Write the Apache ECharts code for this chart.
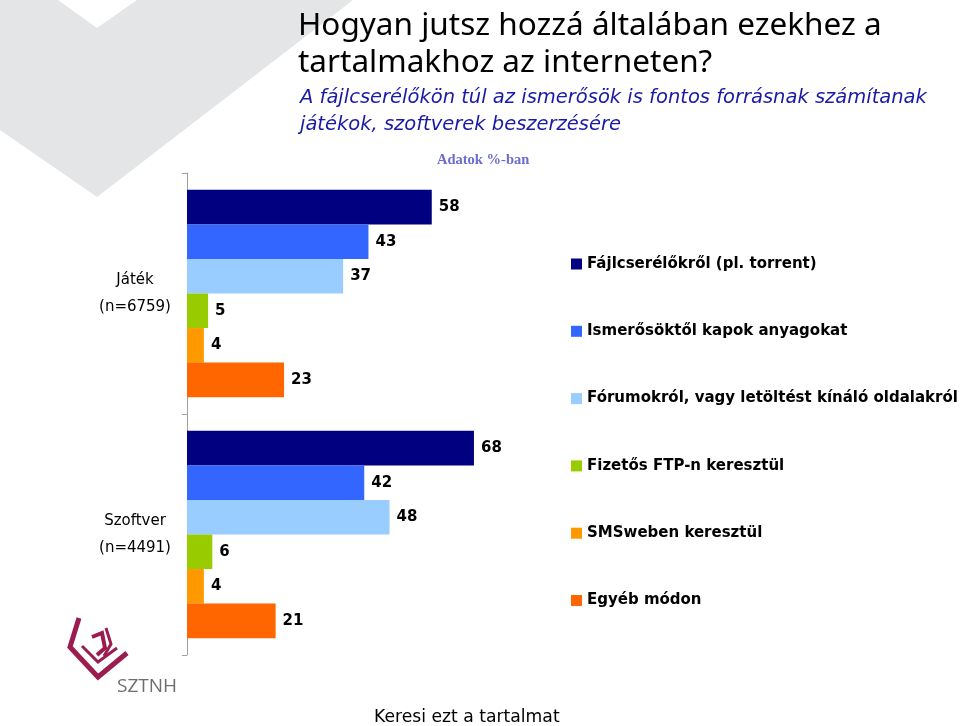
<!DOCTYPE html>
<html>
<head>
<meta charset="utf-8">
<script src="https://cdn.jsdelivr.net/npm/echarts@6/dist/echarts.min.js"></script>
<style>
html,body{margin:0;padding:0;background:#fff;}
#c{width:960px;height:726px;}
</style>
</head>
<body>
<div id="c"></div>
<script>
var categories = ['Játék\n(n=6759)', 'Szoftver\n(n=4491)'];
var seriesNames = [
  'Fájlcserélőkről (pl. torrent)',
  'Ismerősöktől kapok anyagokat',
  'Fórumokról, vagy letöltést kínáló oldalakról',
  'Fizetős FTP-n keresztül',
  'SMSweben keresztül',
  'Egyéb módon'
];
var fajlcserelo = [58, 68];
var ismerosok = [43, 42];
var forumok = [37, 48];
var fizetosFtp = [5, 6];
var smsweben = [4, 4];
var egyeb = [23, 21];
var seriesValues = [fajlcserelo, ismerosok, forumok, fizetosFtp, smsweben, egyeb];
var colors = ['#000080', '#3366ff', '#99ccff', '#99cc00', '#ff9900', '#ff6600'];

var FONT = '"DejaVu Sans", sans-serif';
var chart = echarts.init(document.getElementById('c'));

var series = seriesNames.map(function (n, i) {
  return {
    name: n,
    type: 'bar',
    data: seriesValues[i],
    barGap: '0%',
    barCategoryGap: '14%',
    itemStyle: { color: colors[i] },
    label: {
      show: true, position: 'right', distance: 7,
      color: '#000', fontWeight: 'bold', fontSize: 15, fontFamily: FONT
    },
    silent: true
  };
});

var maroon = '#9b1d4f';
chart.setOption({
  animation: false,
  backgroundColor: '#fff',
  color: colors,
  title: [
    { text: 'Hogyan jutsz hozzá általában ezekhez a\ntartalmakhoz az interneten?', left: 298, top: 8, padding: 0,
      textStyle: { fontFamily: '"Noto Sans", sans-serif', fontWeight: 'normal', fontSize: 31.5, lineHeight: 37, color: '#000' } },
    { text: 'A fájlcserélőkön túl az ismerősök is fontos forrásnak számítanak\njátékok, szoftverek beszerzésére', left: 300, top: 84, padding: 0,
      textStyle: { fontFamily: FONT, fontStyle: 'italic', fontWeight: 'normal', fontSize: 19.5, lineHeight: 27, color: '#1a1aa6' } },
    { text: 'Adatok %-ban', left: 437, top: 153, padding: 0,
      textStyle: { fontFamily: '"Liberation Serif", serif', fontWeight: 'bold', fontSize: 14.5, color: '#6b6bd0' } },
    { text: 'Keresi ezt a tartalmat', left: 374, top: 709, padding: 0,
      textStyle: { fontFamily: FONT, fontWeight: 'normal', fontSize: 17.2, color: '#000' } },
    { text: 'SZTNH', left: 117, top: 677, padding: 0,
      textStyle: { fontFamily: '"Open Sans", sans-serif', fontWeight: 'normal', fontSize: 19, color: '#6e6e6e' } }
  ],
  legend: {
    orient: 'vertical', left: 571, top: 256, padding: 0,
    itemWidth: 11, itemHeight: 11, itemGap: 51.3, icon: 'rect',
    data: seriesNames,
    selectedMode: false,
    textStyle: { fontFamily: FONT, fontWeight: 'bold', fontSize: 15, lineHeight: 16, color: '#000' }
  },
  grid: { left: 187, top: 173, width: 422, height: 482, containLabel: false },
  xAxis: { type: 'value', min: 0, max: 100, show: false },
  yAxis: {
    type: 'category', data: categories, inverse: true,
    axisLine: { show: true, lineStyle: { color: '#a0a0a0', width: 1 } },
    axisTick: { show: true, length: 5, lineStyle: { color: '#a0a0a0' } },
    axisLabel: { margin: 52, align: 'center', fontFamily: FONT, fontSize: 15, lineHeight: 27, color: '#000' },
    splitLine: { show: false }
  },
  graphic: [
    { type: 'polygon', z: -10, silent: true,
      shape: { points: [[0,0],[58,0],[97,28],[137,0],[353,0],[97,197],[0,130]] },
      style: { fill: '#e4e5e6' } },
    { type: 'polyline', silent: true, shape: { points: [[79,618],[70,647],[98,677],[127,653]] },
      style: { stroke: maroon, lineWidth: 5, fill: null } },
    { type: 'polyline', silent: true, shape: { points: [[82,646],[98,662],[117,648]] },
      style: { stroke: maroon, lineWidth: 3, fill: null } },
    { type: 'polyline', silent: true, shape: { points: [[92,637],[102,633],[105,648],[97,655]] },
      style: { stroke: maroon, lineWidth: 4, fill: null } },
    { type: 'polyline', silent: true, shape: { points: [[106,628],[111,644],[104,656]] },
      style: { stroke: maroon, lineWidth: 3, fill: null } }
  ],
  series: series
});
</script>
</body>
</html>
